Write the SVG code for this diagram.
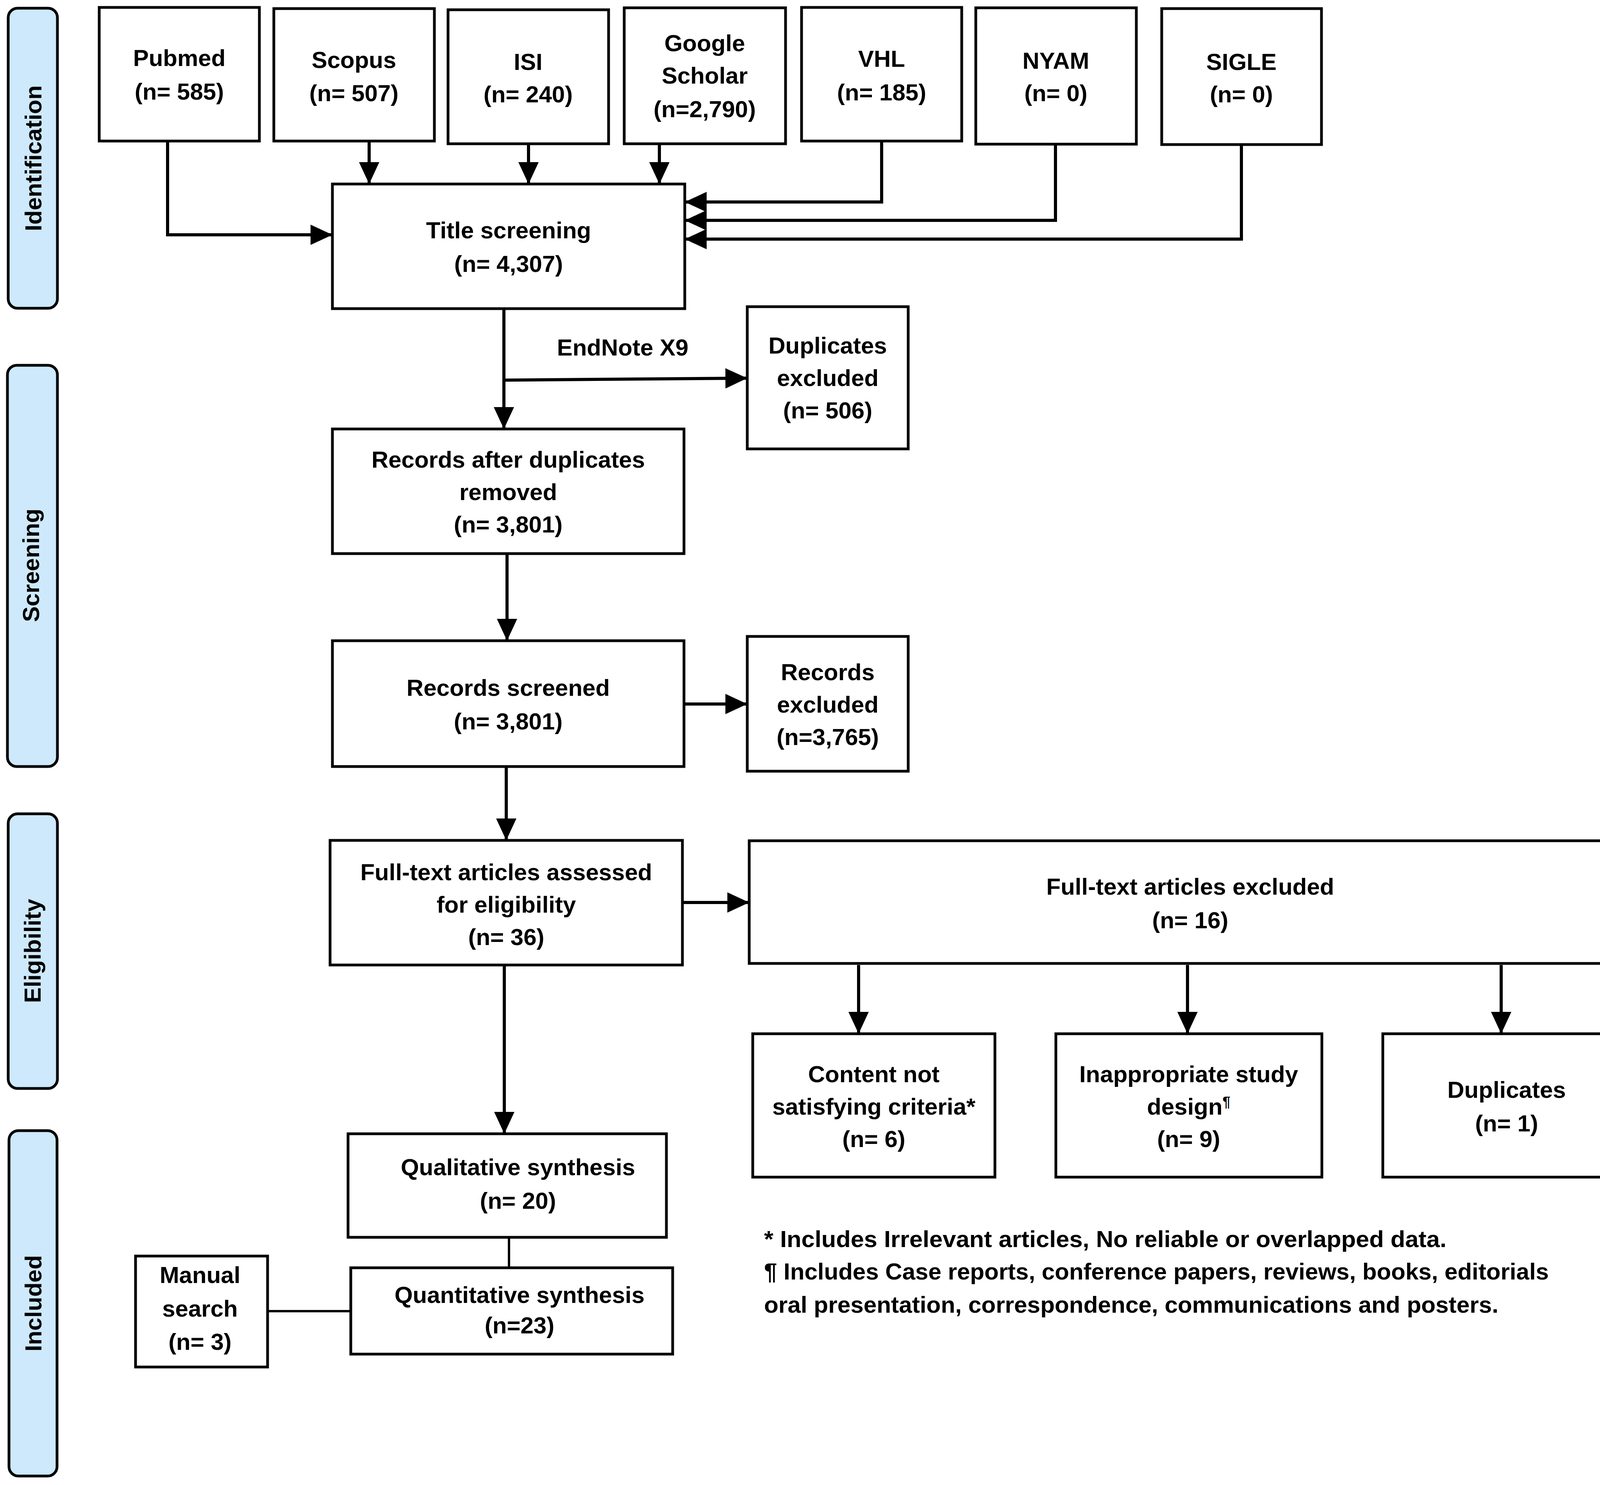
<svg xmlns="http://www.w3.org/2000/svg" width="4200" height="3801" viewBox="0 0 4200 3801">
<defs>
<style>
.box{fill:#fff;stroke:#000;stroke-width:7}
.lane{fill:#cde9fb;stroke:#000;stroke-width:7}
.t{font-family:"Liberation Sans",Arial,sans-serif;font-weight:bold;font-size:60px;fill:#000;text-anchor:middle}
.ln{font-family:"Liberation Sans",Arial,sans-serif;font-weight:bold;font-size:60px;fill:#000;text-anchor:middle}
.fn{font-family:"Liberation Sans",Arial,sans-serif;font-weight:bold;font-size:60px;fill:#000}
.c{fill:none;stroke:#000;stroke-width:8}
.c2{fill:none;stroke:#000;stroke-width:6}
</style>
<marker id="ah" markerUnits="userSpaceOnUse" markerWidth="56" markerHeight="52" refX="56" refY="26" orient="auto" viewBox="0 0 56 52">
<path d="M0,0 L56,26 L0,52 z" fill="#000"/>
</marker>
</defs>
<rect width="4200" height="3801" fill="#fff"/>

<g id="lanes">
<g id="lane-identification"><rect class="lane" x="21" y="21" width="126" height="768" rx="24"/><text class="ln" transform="translate(106,405) rotate(-90)">Identification</text></g>
<g id="lane-screening"><rect class="lane" x="19" y="935" width="128" height="1027" rx="24"/><text class="ln" transform="translate(100,1447) rotate(-90)">Screening</text></g>
<g id="lane-eligibility"><rect class="lane" x="21" y="2083" width="126" height="703" rx="24"/><text class="ln" transform="translate(104,2434) rotate(-90)">Eligibility</text></g>
<g id="lane-included"><rect class="lane" x="23" y="2894" width="123" height="884" rx="24"/><text class="ln" transform="translate(106,3336) rotate(-90)">Included</text></g>
</g>

<g id="connectors">
<path class="c" d="M429,361 V601 H851" marker-end="url(#ah)"/>
<path class="c" d="M945,361 V471" marker-end="url(#ah)"/>
<path class="c" d="M1353,368 V471" marker-end="url(#ah)"/>
<path class="c" d="M1688,368 V471" marker-end="url(#ah)"/>
<path class="c" d="M2257,361 V517 H1753" marker-end="url(#ah)"/>
<path class="c" d="M2702,369 V564 H1753" marker-end="url(#ah)"/>
<path class="c" d="M3178,370 V612 H1753" marker-end="url(#ah)"/>
<path class="c" d="M1290,790 V1098" marker-end="url(#ah)"/>
<path class="c" d="M1290,973 L1913,968" marker-end="url(#ah)"/>
<path class="c" d="M1298,1417 V1640" marker-end="url(#ah)"/>
<path class="c" d="M1750,1802 H1913" marker-end="url(#ah)"/>
<path class="c" d="M1296,1962 V2151" marker-end="url(#ah)"/>
<path class="c" d="M1747,2310 H1918" marker-end="url(#ah)"/>
<path class="c" d="M2198,2470 V2646" marker-end="url(#ah)"/>
<path class="c" d="M3040,2470 V2646" marker-end="url(#ah)"/>
<path class="c" d="M3843,2470 V2646" marker-end="url(#ah)"/>
<path class="c" d="M1291,2470 V2902" marker-end="url(#ah)"/>
<path class="c2" d="M1303,3167 V3245"/>
<path class="c2" d="M685,3356 H898"/>
<text class="t" x="1594" y="910">EndNote X9</text>
</g>

<g id="pubmed"><rect class="box" x="254" y="19" width="410" height="342"/><text class="t" x="459" y="169">Pubmed</text><text class="t" x="459" y="255">(n= 585)</text></g>
<g id="scopus"><rect class="box" x="701" y="22" width="411" height="339"/><text class="t" x="906" y="174">Scopus</text><text class="t" x="906" y="259">(n= 507)</text></g>
<g id="isi"><rect class="box" x="1147" y="25" width="411" height="343"/><text class="t" x="1352" y="179">ISI</text><text class="t" x="1352" y="262">(n= 240)</text></g>
<g id="google-scholar"><rect class="box" x="1598" y="20" width="413" height="348"/><text class="t" x="1804" y="131">Google</text><text class="t" x="1804" y="214">Scholar</text><text class="t" x="1804" y="300">(n=2,790)</text></g>
<g id="vhl"><rect class="box" x="2052" y="19" width="410" height="342"/><text class="t" x="2257" y="171">VHL</text><text class="t" x="2257" y="257">(n= 185)</text></g>
<g id="nyam"><rect class="box" x="2498" y="20" width="411" height="349"/><text class="t" x="2703" y="176">NYAM</text><text class="t" x="2703" y="259">(n= 0)</text></g>
<g id="sigle"><rect class="box" x="2974" y="22" width="409" height="348"/><text class="t" x="3178" y="179">SIGLE</text><text class="t" x="3178" y="262">(n= 0)</text></g>

<g id="title-screening"><rect class="box" x="851" y="471" width="902" height="319"/><text class="t" x="1302" y="610">Title screening</text><text class="t" x="1302" y="696">(n= 4,307)</text></g>
<g id="duplicates-excluded"><rect class="box" x="1913" y="785" width="412" height="364"/><text class="t" x="2119" y="905">Duplicates</text><text class="t" x="2119" y="988">excluded</text><text class="t" x="2119" y="1071">(n= 506)</text></g>
<g id="records-after-duplicates"><rect class="box" x="851" y="1098" width="900" height="319"/><text class="t" x="1301" y="1197">Records after duplicates</text><text class="t" x="1301" y="1280">removed</text><text class="t" x="1301" y="1363">(n= 3,801)</text></g>
<g id="records-screened"><rect class="box" x="851" y="1640" width="900" height="322"/><text class="t" x="1301" y="1781">Records screened</text><text class="t" x="1301" y="1867">(n= 3,801)</text></g>
<g id="records-excluded"><rect class="box" x="1913" y="1629" width="412" height="345"/><text class="t" x="2119" y="1741">Records</text><text class="t" x="2119" y="1824">excluded</text><text class="t" x="2119" y="1907">(n=3,765)</text></g>
<g id="fulltext-assessed"><rect class="box" x="845" y="2151" width="902" height="319"/><text class="t" x="1296" y="2253">Full-text articles assessed</text><text class="t" x="1296" y="2336">for eligibility</text><text class="t" x="1296" y="2419">(n= 36)</text></g>
<g id="fulltext-excluded"><rect class="box" x="1918" y="2152" width="2259" height="314"/><text class="t" x="3047" y="2290">Full-text articles excluded</text><text class="t" x="3047" y="2376">(n= 16)</text></g>
<g id="content-not-satisfying"><rect class="box" x="1927" y="2646" width="620" height="367"/><text class="t" x="2237" y="2770">Content not</text><text class="t" x="2237" y="2853">satisfying criteria*</text><text class="t" x="2237" y="2936">(n= 6)</text></g>
<g id="inappropriate-design"><rect class="box" x="2703" y="2646" width="681" height="367"/><text class="t" x="3043" y="2770">Inappropriate study</text><text class="t" x="3043" y="2853">design<tspan font-size="36" dy="-20">¶</tspan></text><text class="t" x="3043" y="2936">(n= 9)</text></g>
<g id="duplicates"><rect class="box" x="3540" y="2646" width="635" height="367"/><text class="t" x="3857" y="2810">Duplicates</text><text class="t" x="3857" y="2896">(n= 1)</text></g>
<g id="qualitative"><rect class="box" x="891" y="2902" width="815" height="265"/><text class="t" x="1326" y="3008">Qualitative synthesis</text><text class="t" x="1326" y="3094">(n= 20)</text></g>
<g id="quantitative"><rect class="box" x="898" y="3245" width="824" height="221"/><text class="t" x="1330" y="3335">Quantitative synthesis</text><text class="t" x="1330" y="3413">(n=23)</text></g>
<g id="manual-search"><rect class="box" x="347" y="3215" width="338" height="284"/><text class="t" x="512" y="3284">Manual</text><text class="t" x="512" y="3370">search</text><text class="t" x="512" y="3455">(n= 3)</text></g>

<g id="footnotes">
<text class="fn" x="1956" y="3192" textLength="1747" lengthAdjust="spacingAndGlyphs">* Includes Irrelevant articles, No reliable or overlapped data.</text>
<text class="fn" x="1956" y="3275" textLength="2009" lengthAdjust="spacingAndGlyphs">¶ Includes Case reports, conference papers, reviews, books, editorials</text>
<text class="fn" x="1956" y="3360" textLength="1880" lengthAdjust="spacingAndGlyphs">oral presentation, correspondence, communications and posters.</text>
</g>
</svg>
